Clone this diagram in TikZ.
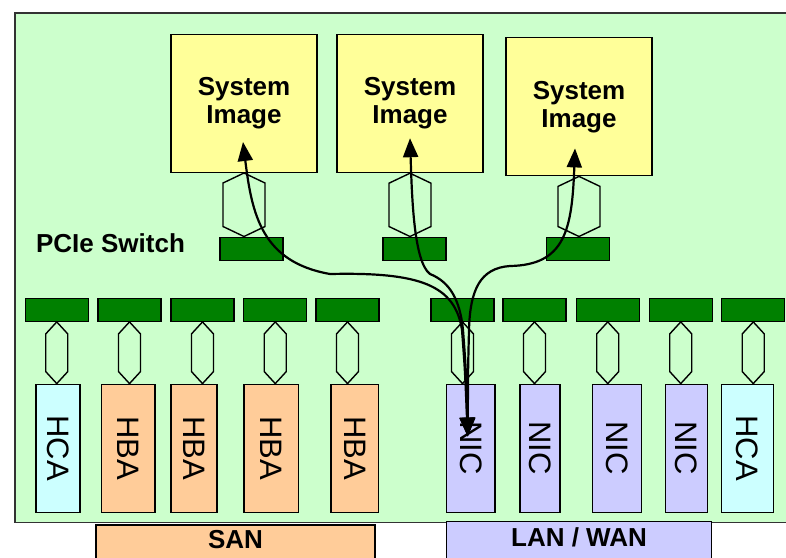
\documentclass[tikz,border=0pt]{standalone}
\usepackage{fontspec}
\setmainfont{Liberation Sans}
\usepackage{graphicx}
\usetikzlibrary{arrows.meta,calc}
\definecolor{boardgreen}{HTML}{CCFFCC}
\definecolor{imgyellow}{HTML}{FFFF99}
\definecolor{portgreen}{HTML}{008000}
\definecolor{hbaorange}{HTML}{FFCC99}
\definecolor{hcacyan}{HTML}{CCFFFF}
\definecolor{niclilac}{HTML}{CCCCFF}
\newcommand\hexlink[4]{\draw[hexline] (#1) -- ++(#3,#4) -- ($(#2)+(#3,-#4)$) -- (#2) -- ($(#2)+(-#3,-#4)$) -- ($(#1)+(-#3,#4)$) -- cycle;}
\newcommand\cardtext[1]{\rotatebox{-90}{\fontsize{31}{31}\selectfont #1}}
\tikzset{
  boxline/.style={draw=black, line width=1.4pt},
  sysimg/.style={boxline, fill=imgyellow, minimum width=146, minimum height=138, inner sep=0, align=center, font=\fontsize{26}{28}\selectfont\bfseries},
  port/.style={boxline, fill=portgreen, minimum width=63, minimum height=23, inner sep=0},
  card/.style={boxline, minimum height=128, inner sep=0},
  net/.style={boxline, inner sep=0, text depth=11pt, font=\fontsize{26}{28}\selectfont\bfseries},
  hexline/.style={draw=black, line width=1.4pt, line join=miter},
  flow/.style={line width=2.2pt, {Triangle[length=19pt,width=15pt]}-{Triangle[length=19pt,width=15pt]}}
}

\begin{document}
\begin{tikzpicture}[x=1pt, y=-1pt]
	\useasboundingbox (0,0) rectangle (786,557);
	\clip (0,0) rectangle (786,557);
	\draw[fill=boardgreen, draw=black!80, line width=1.4pt] (15,13) rectangle (800,522.5);
	\node[net, fill=hbaorange, minimum width=279, minimum height=40] (san) at (235.5,545) {SAN};
	\node[net, fill=niclilac, minimum width=265, minimum height=42] (lan) at (579,542.7) {LAN / WAN};
	\node[sysimg] (si1) at (244,103.3) {System\\Image};
	\node[sysimg] (si2) at (410,103.5) {System\\Image};
	\node[sysimg] (si3) at (579,106.7) {System\\Image};
	\node[font=\fontsize{26}{28}\selectfont\bfseries] (pcie) at (110.5,243) {PCIe Switch};
	\node[port] (sw1) at (251.5,248.7) {};
	\node[port] (sw2) at (414.5,248.7) {};
	\node[port] (sw3) at (578.25,248.7) {};
	\node[port] (port1) at (56.75,309.7) {};
	\node[port] (port2) at (129.5,309.7) {};
	\node[port] (port3) at (202.5,309.7) {};
	\node[port] (port4) at (275.25,309.7) {};
	\node[port] (port5) at (347.5,309.7) {};
	\node[port] (port6) at (462.5,309.7) {};
	\node[port] (port7) at (534.5,309.7) {};
	\node[port] (port8) at (607.75,309.7) {};
	\node[port] (port9) at (680.75,309.7) {};
	\node[port] (port10) at (753.25,309.7) {};
	\node[card, fill=hcacyan, minimum width=44] (hca1) at (58,448.3) {\cardtext{HCA}};
	\node[card, fill=hbaorange, minimum width=53.5] (hba1) at (128.25,448.3) {\cardtext{HBA}};
	\node[card, fill=hbaorange, minimum width=46] (hba2) at (194,448.3) {\cardtext{HBA}};
	\node[card, fill=hbaorange, minimum width=54.5] (hba3) at (271.25,448.3) {\cardtext{HBA}};
	\node[card, fill=hbaorange, minimum width=47.5] (hba4) at (354.75,448.3) {\cardtext{HBA}};
	\node[card, fill=niclilac, minimum width=48.5] (nic1) at (470.75,448.3) {\cardtext{NIC}};
	\node[card, fill=niclilac, minimum width=40] (nic2) at (540,448.3) {\cardtext{NIC}};
	\node[card, fill=niclilac, minimum width=49] (nic3) at (617,448.3) {\cardtext{NIC}};
	\node[card, fill=niclilac, minimum width=42] (nic4) at (686.5,448.3) {\cardtext{NIC}};
	\node[card, fill=hcacyan, minimum width=52] (hca2) at (747.5,448.3) {\cardtext{HCA}};
	\hexlink{si1.south}{si1.south |- sw1.north}{21}{10}
	\hexlink{si2.south}{si2.south |- sw2.north}{21}{10}
	\hexlink{si3.south}{si3.south |- sw3.north}{21}{10}
	\hexlink{port1.south}{port1.south |- hca1.north}{11}{12}
	\hexlink{port2.south}{port2.south |- hba1.north}{11}{12}
	\hexlink{port3.south}{port3.south |- hba2.north}{11}{12}
	\hexlink{port4.south}{port4.south |- hba3.north}{11}{12}
	\hexlink{port5.south}{port5.south |- hba4.north}{11}{12}
	\hexlink{port6.south}{port6.south |- nic1.north}{11}{12}
	\hexlink{port7.south}{port7.south |- nic2.north}{11}{12}
	\hexlink{port8.south}{port8.south |- nic3.north}{11}{12}
	\hexlink{port9.south}{port9.south |- nic4.north}{11}{12}
	\hexlink{port10.south}{port10.south |- hca2.north}{11}{12}
	\coordinate (tip1) at ($(si1.south)+(-1,-31)$);
	\coordinate (tip2) at ($(si2.south)+(0,-35)$);
	\coordinate (tip3) at ($(si3.south)+(-4,-28)$);
	\coordinate (nictip) at ($(nic1.north)+(-3,53)$);
	\draw[flow] (tip1) .. controls (252,215) and (262,262) .. (330,274) .. controls (420,272) and (455,285) .. (462,330) .. controls (465,370) .. (nictip);
	\draw[flow] (tip2) .. controls (412,200) and (414,262) .. (430,274) .. controls (450,282) and (460,300) .. (463,330) .. controls (466,370) .. (nictip);
	\draw[flow] (tip3) .. controls (572,230) and (565,265) .. (510,266) .. controls (480,268) and (470,290) .. (469,330) .. controls (468,370) .. (nictip);
\end{tikzpicture}
\end{document}
